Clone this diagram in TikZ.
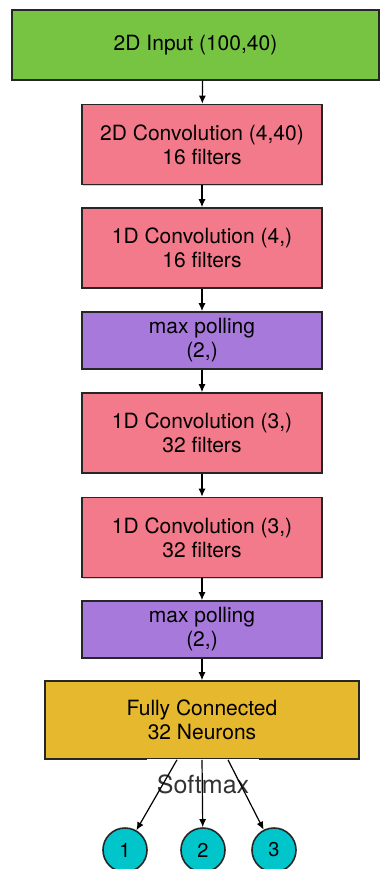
\documentclass[tikz,border=0pt]{standalone}
\usepackage{fontspec}
\setmainfont{TeX Gyre Heros}
\usetikzlibrary{arrows.meta,shadows}

\definecolor{inputgreen}{RGB}{118,196,66}
\definecolor{convpink}{RGB}{243,122,138}
\definecolor{poolpurple}{RGB}{166,121,218}
\definecolor{densegold}{RGB}{229,184,46}
\definecolor{outcyan}{RGB}{0,198,204}

\tikzset{
  layer/.style={draw=black!85, line width=0.8pt, minimum width=120pt, align=center,
    font=\fontsize{10.5}{12}\selectfont,
    drop shadow={shadow xshift=0.5pt, shadow yshift=-0.5pt, opacity=0.35}},
  conv/.style={layer, fill=convpink, minimum height=40pt},
  pool/.style={layer, fill=poolpurple, minimum height=27.5pt},
  outnode/.style={circle, draw=black!85, fill=outcyan, line width=0.8pt,
    minimum size=22pt, inner sep=0pt, font=\fontsize{10}{12}\selectfont},
  flow/.style={-{Latex[length=4pt,width=3.5pt]}, line width=0.6pt},
}

\begin{document}
\begin{tikzpicture}[x={(0.5pt,0pt)},y={(0pt,-0.5pt)}]
        \useasboundingbox (0,0) rectangle (381,869);
        % layers
        \node[layer, fill=inputgreen, minimum width=183.5pt, minimum height=35pt] (inp) at (195.5,45) {2D Input (100,40)};
        \node[conv] (conva) at (202,144.5) {2D Convolution (4,40)\\16 filters};
        \node[conv] (convb) at (202,248) {1D Convolution (4,)\\16 filters};
        \node[pool] (poola) at (202,340.5) {max polling\\(2,)};
        \node[conv] (convc) at (202,433) {1D Convolution (3,)\\32 filters};
        \node[conv] (convd) at (202,537.5) {1D Convolution (3,)\\32 filters};
        \node[pool] (poolb) at (202,629.5) {max polling\\(2,)};
        \node[layer, fill=densegold, minimum width=157pt, minimum height=39pt] (fc) at (202,720) {Fully Connected\\32 Neurons};
        \node[fill=white, minimum width=56pt, minimum height=25.5pt, text=black!80,
          font=\fontsize{12.5}{14}\selectfont] (soft) at (203,784) {Softmax};
        % outputs
        \node[outnode] (outa) at (125,850) {1};
        \node[outnode] (outb) at (203,850) {2};
        \node[outnode] (outc) at (274,850) {3};
        % connections
        \draw[flow] ([xshift=3.5pt]inp.south) -- (conva);
        \draw[flow] (conva) -- (convb);
        \draw[flow] (convb) -- (poola);
        \draw[flow] (poola) -- (convc);
        \draw[flow] (convc) -- (convd);
        \draw[flow] (convd) -- (poolb);
        \draw[flow] (poolb) -- (fc);
        \draw[flow] ([xshift=-12.5pt]fc.south) -- (outa);
        \draw[flow] (fc.south) -- (outb);
        \draw[flow] ([xshift=13pt]fc.south) -- (outc);
\end{tikzpicture}
\end{document}
